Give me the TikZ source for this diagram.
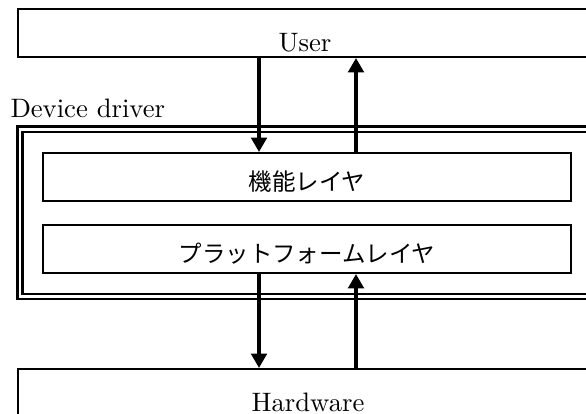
\documentclass[tikz,border=0pt]{standalone}
\usepackage{fontspec}
\newfontfamily\jpfont{Noto Sans CJK JP}
\usetikzlibrary{arrows.meta,positioning}

\tikzstyle{s} = [rectangle, draw=black, line width=0.75pt, inner sep=0pt, anchor=north, minimum width=215.25pt, text height=15.75pt, text depth=2.25pt]
\tikzstyle{layer} = [rectangle, draw=black, line width=0.75pt, inner sep=0pt, anchor=north, minimum width=198pt, text height=13.9pt, text depth=4.1pt, font=\jpfont\fontsize{8.8pt}{10pt}\selectfont]
\tikzstyle{frame} = [rectangle, draw=black, double, line width=0.9pt, double distance=1.05pt, inner sep=0pt, anchor=north west]
\tikzstyle{flow} = [-{Triangle[length=5.4pt,width=5.8pt]}, line width=1.7pt]

\begin{document}
\begin{tikzpicture}[x=0.375pt,y=-0.375pt]
\useasboundingbox (0,0) rectangle (586,414);
\clip (0,0) rectangle (586,414);

\node[s] (User) at (305,8) {User};

\node[frame, minimum width=214.5pt, minimum height=62.8pt] (Driver) at (18.8,128) {};
\node [anchor=base west, inner sep=0pt] (DriverLabel) at (10,117) {Device driver};

\node[layer] (Func) at (307,152) {機能レイヤ};
\node[layer] (Platform) at (307,224) {プラットフォームレイヤ};

\node[s, minimum width=217.5pt] (Hardware) at (308,368) {Hardware};

\coordinate (down) at (259,0);
\coordinate (up) at (356,0);

\path
  (User.south -| down) edge[flow] (Func.north -| down)
  (Func.north -| up) edge[flow] (User.south -| up)
  (Platform.south -| down) edge[flow] (Hardware.north -| down)
  (Hardware.north -| up) edge[flow] (Platform.south -| up)
  ;

\end{tikzpicture}
\end{document}
